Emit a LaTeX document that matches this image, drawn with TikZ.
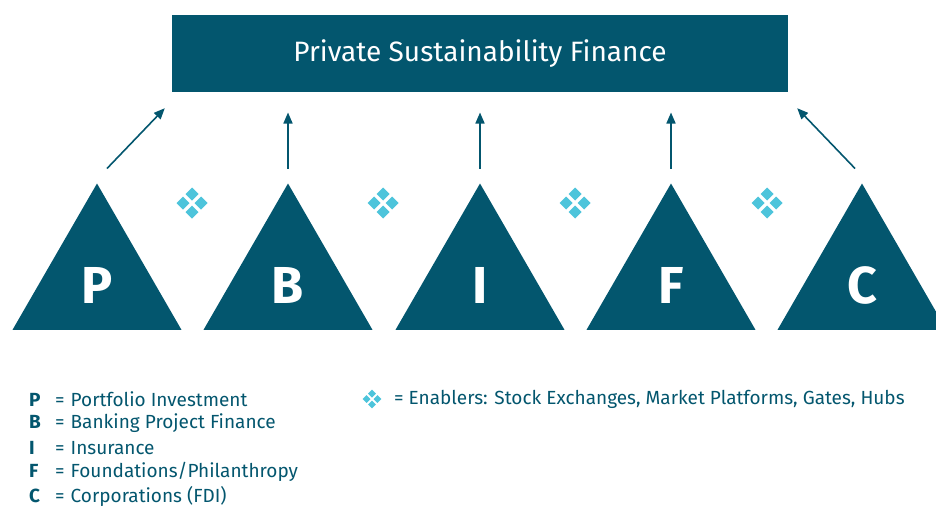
\documentclass[tikz,border=0pt]{standalone}
\usepackage{fontspec}
\setmainfont{Fira Sans}
\usetikzlibrary{arrows.meta, shapes.geometric}

\definecolor{deepteal}{HTML}{03566E}
\definecolor{enablecyan}{HTML}{4DC4DB}

\tikzset{
  pillar/.style = {regular polygon, regular polygon sides=3, minimum size=195pt,
                   inner sep=0pt, outer sep=0pt, fill=deepteal},
  pletter/.style = {text=white, font=\fontsize{52}{52}\selectfont\bfseries},
  flow/.style = {draw=deepteal, line width=1.6pt, -{Triangle[length=11pt, width=9pt]}},
  legend/.style = {anchor=west, text=deepteal, inner sep=0pt, font=\fontsize{19}{21}\selectfont},
  enabler/.pic = {
    \foreach \dx/\dy in {0/-9, -9/0, 9/0, 0/9}
      \fill[enablecyan] (\dx+6.5,\dy) -- (\dx,\dy+6.5) -- (\dx-6.5,\dy) -- (\dx,\dy-6.5) -- cycle;
  }
}
\newcommand{\lkey}[1]{\makebox[26pt][l]{\bfseries #1}=\hspace{6pt}}

\begin{document}
\begin{tikzpicture}[x=1pt, y=-1pt]
   \useasboundingbox (0,0) rectangle (936,506);

   % top box
   \node(psf) at (480,53.5) [fill=deepteal, text=white, minimum width=616pt, minimum height=77pt,
        inner sep=0pt, font=\fontsize{28}{28}\selectfont] {Private Sustainability Finance};

   % pillars
   \node(tP) at (97,281) [pillar] {};
   \node(tB) at (288,281) [pillar] {};
   \node(tI) at (480,281) [pillar] {};
   \node(tF) at (671,281) [pillar] {};
   \node(tC) at (862,281) [pillar] {};
   \node(lP) at (97,285) [pletter] {P};
   \node(lB) at (288,285) [pletter] {B};
   \node(lI) at (480,285) [pletter] {I};
   \node(lF) at (671,285) [pletter] {F};
   \node(lC) at (862,285) [pletter] {C};

   % arrows
   \draw [flow] ([shift={(10pt,15pt)}]tP.corner 1) -- ([shift={(-7pt,-16pt)}]psf.south west);
   \draw [flow] ([yshift=15pt]tB.corner 1) -- ([yshift=71pt]tB.corner 1);
   \draw [flow] ([yshift=15pt]tI.corner 1) -- ([yshift=71pt]tI.corner 1);
   \draw [flow] ([yshift=15pt]tF.corner 1) -- ([yshift=71pt]tF.corner 1);
   \draw [flow] ([shift={(-7pt,15pt)}]tC.corner 1) -- ([shift={(9pt,-16pt)}]psf.south east);

   % enablers
   \pic at (192,203) {enabler};
   \pic at (383,203) {enabler};
   \pic at (575,203) {enabler};
   \pic at (767,203) {enabler};

   % legend
   \node(kP) at (29,399) [legend] {\lkey{P}Portfolio Investment};
   \node(kB) at (29,423.5) [legend] {\lkey{B}Banking Project Finance};
   \node(kI) at (29,448) [legend] {\lkey{I}Insurance};
   \node(kF) at (29,472) [legend] {\lkey{F}Foundations/Philanthropy};
   \node(kC) at (29,496) [legend] {\lkey{C}Corporations (FDI)};
   \pic[scale=0.6] at (372,399) {enabler};
   \node(kE) at (394,399) [legend] {= Enablers: Stock Exchanges, Market Platforms, Gates, Hubs};

\end{tikzpicture}
\end{document}
